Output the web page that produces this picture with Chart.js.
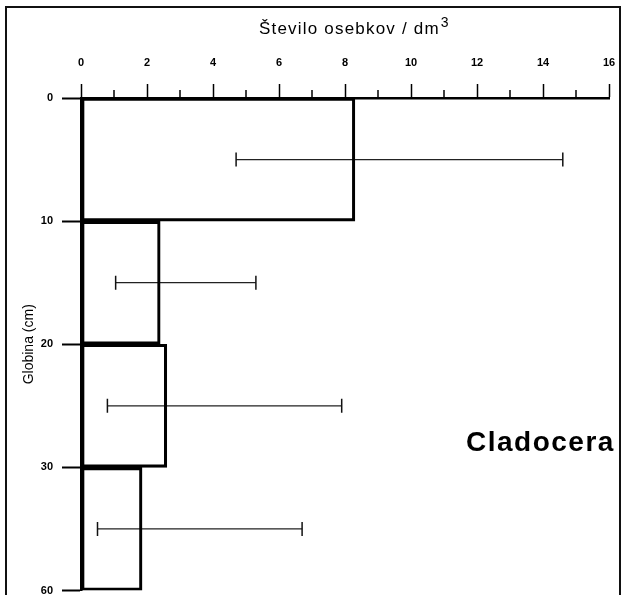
<!DOCTYPE html>
<html>
<head>
<meta charset="utf-8">
<script src="https://cdn.jsdelivr.net/npm/chart.js@4.4.1/dist/chart.umd.min.js"></script>
<style>
  body { margin: 0; background: #fff; }
  #wrap { position: relative; width: 625px; height: 595px; overflow: hidden; }
  #frame { position: absolute; left: 5px; top: 6px; width: 612px; height: 600px; border: 2px solid #111; }
  canvas { position: absolute; left: 0; top: 0; }
</style>
</head>
<body>
<div id="wrap">
  <div id="frame"></div>
  <canvas id="chart" width="625" height="599"></canvas>
</div>
<script>
// globinski intervali (cm) in povprecno stevilo osebkov
const depthLabels = ['0', '10', '20', '30', '60'];
const layerMid = [0.5, 1.5, 2.5, 3.5];
const meanCount = [8.3, 2.4, 2.6, 1.85];
const errLow = [4.7, 1.05, 0.8, 0.5];
const errHigh = [14.6, 5.3, 7.9, 6.7];

const font = 'Liberation Sans, Arial, sans-serif';

const datasets = [{
  type: 'bar',
  data: meanCount.map((v, i) => ({ x: v, y: layerMid[i] })),
  backgroundColor: 'rgba(0,0,0,0)',
  borderColor: '#000',
  borderWidth: 2.5,
  borderSkipped: false,
  barPercentage: 1,
  categoryPercentage: 1
}];

layerMid.forEach((m, i) => {
  datasets.push({
    type: 'line',
    data: [{ x: errLow[i], y: m }, { x: errHigh[i], y: m }],
    borderColor: '#222',
    borderWidth: 1.2,
    pointStyle: 'line',
    rotation: 90,
    pointRadius: 7,
    pointBorderColor: '#111',
    pointBorderWidth: 1.5
  });
});

// krajse pomozne oznake na zgornji osi
const minorTicks = {
  id: 'minorTicks',
  afterDraw(chart) {
    const sx = chart.scales.x;
    const c = chart.ctx;
    c.save();
    c.strokeStyle = '#000';
    c.lineWidth = 1.5;
    for (let v = 1; v < 16; v += 2) {
      const px = sx.getPixelForValue(v);
      c.beginPath();
      c.moveTo(px, chart.chartArea.top);
      c.lineTo(px, chart.chartArea.top - 8);
      c.stroke();
    }
    c.restore();
  }
};

// naslov zgornje osi (z nadpisano 3) in oznaka skupine
const labelText = {
  id: 'labelText',
  afterDraw(chart) {
    const c = chart.ctx;
    c.save();
    c.fillStyle = '#000';
    c.textAlign = 'left';
    c.textBaseline = 'alphabetic';
    c.font = '17px ' + font;
    c.letterSpacing = '1.2px';
    const t = 'Število osebkov / dm';
    c.fillText(t, 259, 34);
    const w = c.measureText(t).width;
    c.font = '14px ' + font;
    c.fillText('3', 259 + w + 1, 27);

    c.font = 'bold 28px ' + font;
    c.letterSpacing = '1.5px';
    c.textBaseline = 'middle';
    c.fillText('Cladocera', 466, 443);
    c.restore();
  }
};

new Chart(document.getElementById('chart'), {
  data: { datasets: datasets },
  plugins: [minorTicks, labelText],
  options: {
    indexAxis: 'y',
    responsive: false,
    animation: false,
    layout: { padding: { left: 0, right: 16, top: 0, bottom: 2 } },
    plugins: { legend: { display: false }, tooltip: { enabled: false } },
    scales: {
      x: {
        type: 'linear',
        position: 'top',
        min: 0,
        max: 16,
        afterFit: s => { s.height = 98; s.paddingLeft = 0; s.paddingRight = 0; },
        ticks: {
          stepSize: 1,
          autoSkip: false,
          maxRotation: 0,
          padding: 14,
          color: '#000',
          font: { family: font, size: 11, weight: 'bold' },
          callback: v => (v % 2 === 0 ? String(v) : '')
        },
        grid: {
          drawOnChartArea: false,
          tickLength: 14,
          tickWidth: 1.5,
          tickColor: ctx => (ctx.tick && ctx.tick.value % 2 === 0 ? '#000' : 'rgba(0,0,0,0)')
        },
        border: { display: true, color: '#000', width: 2.5 }
      },
      y: {
        type: 'linear',
        reverse: true,
        offset: false,
        min: 0,
        max: 4,
        afterFit: s => { s.width = 81; s.paddingTop = 0; s.paddingBottom = 0; },
        title: {
          display: true,
          text: 'Globina (cm)',
          color: '#000',
          font: { family: font, size: 14 },
          padding: { top: 21, bottom: 4 }
        },
        ticks: {
          stepSize: 1,
          padding: 9,
          color: '#000',
          font: { family: font, size: 11, weight: 'bold' },
          callback: v => depthLabels[v]
        },
        grid: {
          offset: false,
          drawOnChartArea: false,
          tickLength: 19,
          tickWidth: 2,
          tickColor: '#000'
        },
        border: { display: true, color: '#000', width: 2.5 }
      }
    }
  }
});
</script>
</body>
</html>
